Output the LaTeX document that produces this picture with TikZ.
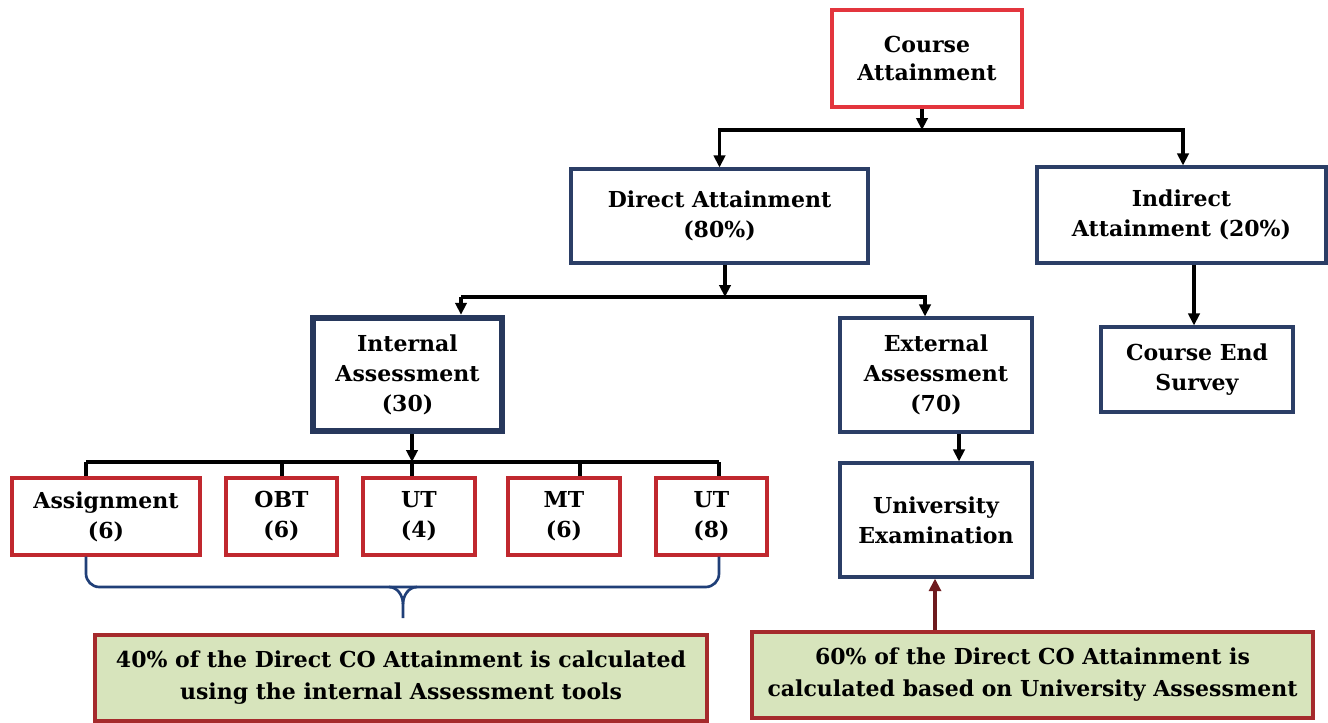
\documentclass[tikz,border=0pt]{standalone}
\usepackage{fontspec}
\setmainfont{DejaVu Serif}
\usetikzlibrary{arrows.meta}
\definecolor{navy}{HTML}{2B3E66}
\definecolor{boxred}{HTML}{C0282E}
\definecolor{topred}{HTML}{E3353D}
\definecolor{greenfill}{HTML}{D7E4BC}
\definecolor{greenedge}{HTML}{A52A2C}
\definecolor{maroon}{HTML}{6E1A1E}
\definecolor{bracecol}{HTML}{203F78}
\begin{document}
\begin{tikzpicture}[x=0.75pt,y=-0.75pt,
  base/.style={align=center,inner sep=0pt,font=\bfseries\fontsize{16.5}{22.5}\selectfont},
  bluebox/.style={base,draw=navy,line width=2.3pt,fill=white},
  thickblue/.style={base,draw=navy!90!black,line width=4.6pt,fill=white},
  redbox/.style={base,draw=boxred,line width=2.6pt,fill=white,minimum height=57.75pt},
  topbox/.style={base,draw=topred,line width=2.6pt,fill=white,font=\bfseries\fontsize{16.5}{21}\selectfont},
  notebox/.style={base,draw=greenedge,line width=2.6pt,fill=greenfill,minimum height=64.5pt,font=\bfseries\fontsize{16.5}{24}\selectfont},
  conn/.style={line width=2.4pt,black},
  arr/.style={conn,-{Triangle[length=9pt,width=8.5pt]}},
  redarr/.style={line width=3.2pt,maroon,-{Triangle[length=9.5pt,width=9pt]}},
  brace/.style={line width=2pt,bracecol}
]
\useasboundingbox (0,0) rectangle (1328,722);

% nodes
\node[topbox,minimum width=142.5pt,minimum height=72.75pt] (course) at (927,58.5) {Course\\Attainment};
\node[bluebox,minimum width=222.75pt,minimum height=70.5pt] (direct) at (719.5,216) {Direct Attainment\\(80\%)};
\node[bluebox,minimum width=216.75pt,minimum height=72pt] (indirect) at (1181.5,215) {Indirect\\Attainment (20\%)};
\node[thickblue,minimum width=142pt,minimum height=85pt] (internal) at (407.5,374.5) {Internal\\Assessment\\(30)};
\node[bluebox,minimum width=144pt,minimum height=85.5pt] (external) at (936,375) {External\\Assessment\\(70)};
\node[bluebox,minimum width=144pt,minimum height=63.75pt] (survey) at (1197,369.5) {Course End\\Survey};
\node[bluebox,minimum width=144pt,minimum height=85.5pt] (univ) at (936,520) {University\\Examination};

\node[redbox,minimum width=141pt] (assign) at (106,516.5) {Assignment\\(6)};
\node[redbox,minimum width=83.25pt] (obt) at (281.5,516.5) {OBT\\(6)};
\node[redbox,minimum width=84pt] (utfour) at (419,516.5) {UT\\(4)};
\node[redbox,minimum width=84pt] (mt) at (564,516.5) {MT\\(6)};
\node[redbox,minimum width=83.25pt] (uteight) at (711.5,516.5) {UT\\(8)};

\node[notebox,minimum width=459pt] (noteA) at (401,678) {40\% of the Direct CO Attainment is calculated\\using the internal Assessment tools};
\node[notebox,minimum width=420.75pt] (noteB) at (1032.5,675) {60\% of the Direct CO Attainment is\\calculated based on University Assessment};

% junction coordinates
\coordinate (jA) at (922,130);
\coordinate (jB) at (725,297);
\coordinate (jBl) at (461,297);
\coordinate (jC) at (412,462);
\coordinate (tA) at (86,462);
\coordinate (tB) at (282,462);
\coordinate (tD) at (580,462);
\coordinate (tE) at (719,462);
\coordinate (xInd) at (1183,0);
\coordinate (xSur) at (1194,0);
\coordinate (xExt) at (925,0);
\coordinate (xUni) at (959,0);
\coordinate (xRed) at (935,0);

% connectors level 1
\draw[arr] (jA |- course.south) -- (jA);
\draw[arr] (jA) -| (direct.north);
\draw[arr] (jA) -- (jA -| xInd) -- (indirect.north -| xInd);

% level 2
\draw[arr] (jB |- direct.south) -- (jB);
\draw[conn] (jB) -- (jBl);
\draw[arr] (jBl) -- (jBl |- internal.north);
\draw[arr] (jB) -- (jB -| xExt) -- (external.north -| xExt);
\draw[arr] (indirect.south -| xSur) -- (survey.north -| xSur);

% level 3
\draw[arr] (jC |- internal.south) -- (jC);
\draw[conn] (tA) -- (tE);
\draw[conn] (tA) -- (tA |- assign.north);
\draw[conn] (tB) -- (tB |- obt.north);
\draw[conn] (jC) -- (jC |- utfour.north);
\draw[conn] (tD) -- (tD |- mt.north);
\draw[conn] (tE) -- (tE |- uteight.north);
\draw[arr] (external.south -| xUni) -- (univ.north -| xUni);

% brace
\coordinate (bL) at (86,587);
\coordinate (bR) at (719,587);
\coordinate (bT) at (403,618);
\draw[brace,rounded corners=10pt] (bL |- assign.south) -- (bL) -- (bR) -- (bR |- uteight.south);
\draw[brace] (bT) -- ++(0,-14) coordinate (bS) .. controls +(0,-9) and +(8,0) .. ++(-14,-17);
\draw[brace] (bS) .. controls +(0,-9) and +(-8,0) .. ++(14,-17);

% red arrow
\draw[redarr] (noteB.north -| xRed) -- (univ.south -| xRed);
\end{tikzpicture}
\end{document}
